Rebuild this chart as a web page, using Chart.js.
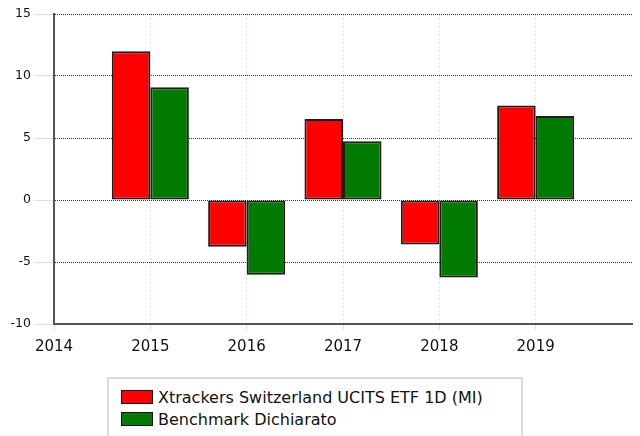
<!DOCTYPE html>
<html>
<head>
<meta charset="utf-8">
<script src="https://cdn.jsdelivr.net/npm/chart.js@4"></script>
<style>
  html, body { margin: 0; padding: 0; background: #fff; }
  #wrap { position: relative; width: 640px; height: 436px; overflow: hidden; }
  #legend {
    position: absolute; left: 107px; top: 377px; width: 412px; height: 80px;
    border: 2px solid #dcdcdc; background: #fff;
    font-family: "DejaVu Sans", Verdana, sans-serif; font-size: 16px; color: #111;
  }
  .row { position: absolute; left: 12px; height: 18px; line-height: 18px; white-space: nowrap; }
  .sw { display: inline-block; width: 30px; height: 12px; border: 1.5px solid #111; vertical-align: top; margin-top: 1px; margin-right: 5px; }
</style>
</head>
<body>
<div id="wrap">
  <canvas id="bar-chart" width="640" height="436"></canvas>
  <div id="legend"></div>
</div>
<script>
// categories (2020 is only the right edge of the axis, no label)
const categories = ['2014', '2015', '2016', '2017', '2018', '2019', ''];
const etfValues   = [null, 12.0, -3.77, 6.53, -3.58, 7.63, null];
const benchValues = [null, 9.1, -6.02, 4.73, -6.26, 6.77, null];
const seriesNames = ['Xtrackers Switzerland UCITS ETF 1D (MI)', 'Benchmark Dichiarato'];
const seriesColors = ['#ff0000', '#007a00'];
const yTicks = [-10, -5, 0, 5, 10, 15];

const lastIdx = categories.length - 1;

const data = {
  labels: categories,
  datasets: [
    {label: seriesNames[0], data: etfValues, backgroundColor: seriesColors[0]},
    {label: seriesNames[1], data: benchValues, backgroundColor: seriesColors[1]}
  ].map(d => Object.assign(d, {
    borderColor: '#1e1e1e', borderWidth: 2, borderSkipped: false,
    categoryPercentage: 0.8, barPercentage: 1.0
  }))
};

const config = {
  type: 'bar',
  data: data,
  options: {
    responsive: false,
    animation: false,
    layout: {padding: {left: 0, right: 7, top: 14, bottom: 0}},
    plugins: {legend: {display: false}, tooltip: {enabled: false}},
    scales: {
      x: {
        offset: false,
        grid: {
          offset: false,
          color: ctx => ctx.index === lastIdx ? 'rgba(0,0,0,0)' : '#dbe7f6',
          tickColor: ctx => ctx.index === lastIdx ? 'rgba(0,0,0,0)' : '#d4e2f4',
          tickLength: 6
        },
        border: {display: true, color: '#555', width: 2, dash: [2, 2]},
        ticks: {
          autoSkip: false, maxRotation: 0, padding: 8, color: '#111',
          font: {family: 'DejaVu Sans', size: 15}
        },
        afterFit: s => { s.height = 112; }
      },
      y: {
        min: yTicks[0], max: yTicks[yTicks.length - 1],
        afterBuildTicks: s => { s.ticks = yTicks.map(v => ({value: v})); },
        grid: {color: '#333', tickColor: '#d4e2f4', tickLength: 20},
        border: {display: true, color: '#555', width: 2, dash: [1, 1]},
        ticks: {
          padding: 3, color: '#111',
          font: {family: 'DejaVu Sans', size: 12.5}
        },
        afterFit: s => { s.width = 54; }
      }
    }
  }
};

// legend (html, boxed like the original)
const leg = document.getElementById('legend');
seriesNames.forEach((name, i) => {
  const row = document.createElement('div');
  row.className = 'row';
  row.style.top = (10 + i * 22) + 'px';
  row.innerHTML = '<span class="sw" style="background:' + seriesColors[i] + '"></span>' + name;
  leg.appendChild(row);
});

window.onload = function() {
  var ctx = document.getElementById('bar-chart').getContext('2d');
  window.myBar = new Chart(ctx, config);
};
</script>
</body>
</html>
